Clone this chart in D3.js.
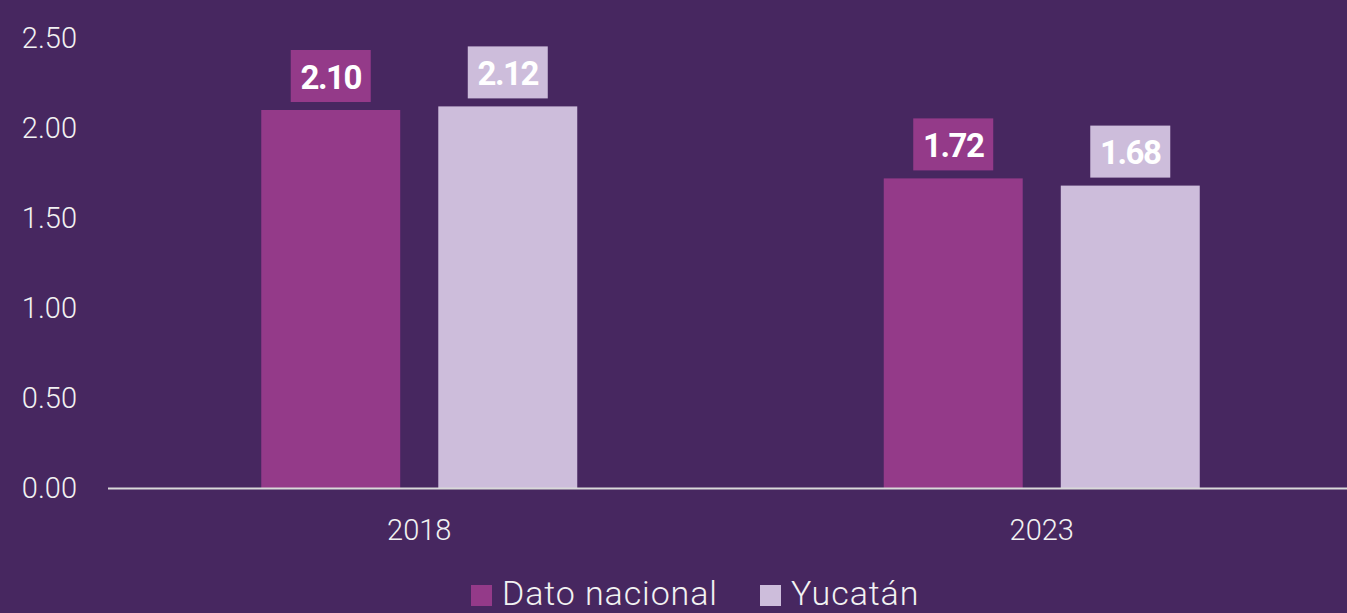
<!DOCTYPE html>
<html>
<head>
<meta charset="utf-8">
<script src="https://cdn.jsdelivr.net/npm/d3@7"></script>
<style>
  body { margin: 0; background: #472760; }
  svg { display: block; font-family: Roboto, "Noto Sans", sans-serif; }
</style>
</head>
<body>
<div id="chart"></div>
<script>
var years = ["2018", "2023"];
var seriesNames = ["Dato nacional", "Yucatán"];
var nacional = [2.10, 1.72];
var yucatan = [2.12, 1.68];
var yTicks = [0, 0.5, 1, 1.5, 2, 2.5];

(function(){
  var width = 1347, height = 613;
  var colors = ["#943a89", "#cdbddb"];

  var svg = d3.select("#chart")
    .append("svg")
      .attr("width", width)
      .attr("height", height);

  svg.append("rect")
    .attr("width", width).attr("height", height)
    .attr("fill", "#472760");

  var y = d3.scaleLinear()
    .domain([0, 2.5])
    .range([488, 38]);

  var x = d3.scaleBand()
    .domain(years)
    .range([108, 1353]);

  // inner scale for the two series
  var x1 = d3.scaleBand()
    .domain(seriesNames)
    .range([x.bandwidth() / 2 - 158, x.bandwidth() / 2 + 158])
    .paddingInner(0.215);

  // y labels
  svg.selectAll(".ylab")
    .data(yTicks)
    .join("text")
      .attr("class", "ylab")
      .attr("x", 77)
      .attr("y", function(d) { return y(d); })
      .attr("dy", "0.35em")
      .attr("text-anchor", "end")
      .attr("fill", "#f2f2f2")
      .style("font-size", "29px")
      .style("font-weight", 300)
      .text(function(d) { return d3.format(".2f")(d); });

  // bars
  var rows = years.map(function(yr, i) {
    return { year: yr, vals: [nacional[i], yucatan[i]] };
  });

  var g = svg.selectAll(".grp")
    .data(rows)
    .join("g")
      .attr("class", "grp")
      .attr("transform", function(d) { return "translate(" + x(d.year) + ",0)"; });

  var cells = g.selectAll(".cell")
    .data(function(d) { return d.vals.map(function(v, j) { return { name: seriesNames[j], v: v, j: j }; }); })
    .join("g")
      .attr("class", "cell");

  cells.append("rect")
    .attr("x", function(d) { return x1(d.name); })
    .attr("y", function(d) { return y(d.v); })
    .attr("width", x1.bandwidth())
    .attr("height", function(d) { return y(0) - y(d.v); })
    .attr("fill", function(d) { return colors[d.j]; });

  // value labels with box
  cells.append("rect")
    .attr("x", function(d) { return x1(d.name) + x1.bandwidth() / 2 - 40; })
    .attr("y", function(d) { return y(d.v) - 60; })
    .attr("width", 80)
    .attr("height", 52)
    .attr("fill", function(d) { return colors[d.j]; });

  cells.append("text")
    .attr("x", function(d) { return x1(d.name) + x1.bandwidth() / 2; })
    .attr("y", function(d) { return y(d.v) - 33; })
    .attr("dy", "0.36em")
    .attr("text-anchor", "middle")
    .attr("fill", "#ffffff")
    .style("font-size", "33px")
    .style("font-weight", 700)
    .style("letter-spacing", "-1.5px")
    .text(function(d) { return d3.format(".2f")(d.v); });

  // x axis line
  svg.append("line")
    .attr("x1", 108).attr("x2", width)
    .attr("y1", y(0) + 0.5).attr("y2", y(0) + 0.5)
    .attr("stroke", "#d9d9d9")
    .attr("stroke-width", 2);

  svg.selectAll(".xlab")
    .data(years)
    .join("text")
      .attr("class", "xlab")
      .attr("x", function(d) { return x(d) + x.bandwidth() / 2; })
      .attr("y", 530)
      .attr("dy", "0.35em")
      .attr("text-anchor", "middle")
      .attr("fill", "#f2f2f2")
      .style("font-size", "29px")
      .style("font-weight", 300)
      .text(function(d) { return d; });

  // legend
  var legX = [471, 760];
  var leg = svg.selectAll(".leg")
    .data(seriesNames)
    .join("g")
      .attr("class", "leg")
      .attr("transform", function(d, i) { return "translate(" + legX[i] + ",585)"; });

  leg.append("rect")
    .attr("width", 21).attr("height", 21)
    .attr("fill", function(d, i) { return colors[i]; });

  leg.append("text")
    .attr("x", 31)
    .attr("y", 20)
    .attr("fill", "#f2f2f2")
    .style("font-size", "34px")
    .style("font-weight", 300)
    .style("letter-spacing", "0.9px")
    .text(function(d) { return d; });
})();
</script>
</body>
</html>
